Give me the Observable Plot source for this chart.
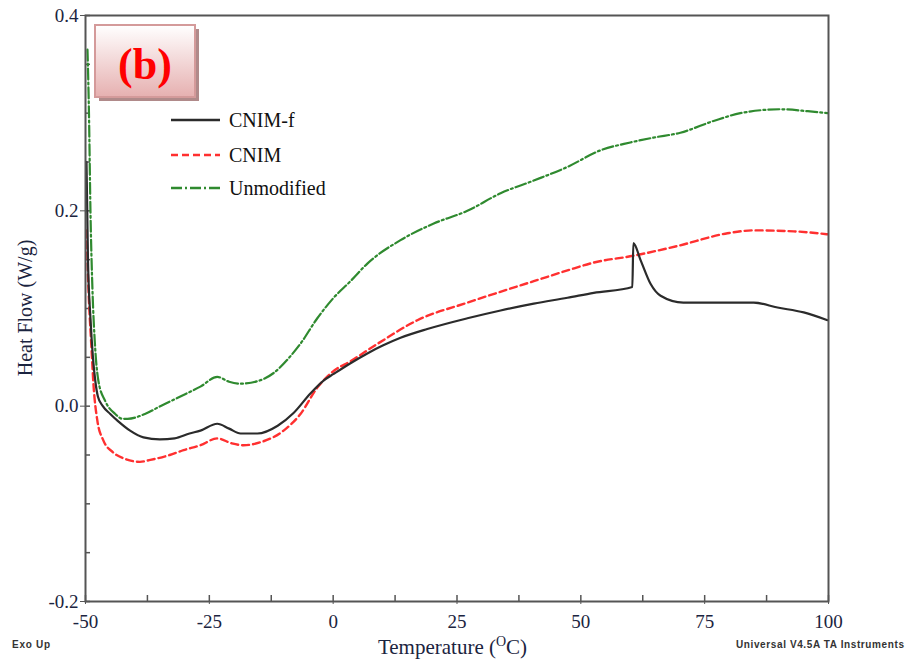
<!DOCTYPE html>
<html>
<head>
<meta charset="utf-8">
<script src="https://cdn.jsdelivr.net/npm/d3@7"></script>
<script src="https://cdn.jsdelivr.net/npm/@observablehq/plot@0.6"></script>
<style>
  html, body { margin: 0; padding: 0; background: #fff; }
  #chart { width: 909px; height: 662px; }
  #chart svg text { font-family: 'Liberation Serif', 'Times New Roman', serif; }
</style>
</head>
<body>
<div id="chart"></div>
<script>
// ---- Data ----
const seriesNames = ["CNIM-f", "CNIM", "Unmodified"];

const cnimfT = [-49.8, -49.5, -49, -48.5, -48, -47.5, -46.5, -45, -43.5, -41, -38.3, -35, -32, -29, -26.8, -23.4, -21, -18.7, -15.3, -11.2, -8, -4.6, -2, 0.1, 3.5, 6.9, 10, 13.6, 19, 27.1, 33.8, 40.5, 47.3, 52.6, 60.4, 60.6, 62.1, 64.1, 66.1, 70.7, 84.9, 89.7, 95, 99.8];
const cnimfV = [0.25, 0.15, 0.09, 0.05, 0.025, 0.01, 0.0, -0.008, -0.015, -0.025, -0.032, -0.034, -0.033, -0.028, -0.025, -0.018, -0.023, -0.028, -0.028, -0.020, -0.007, 0.013, 0.026, 0.033, 0.044, 0.054, 0.062, 0.070, 0.079, 0.090, 0.098, 0.105, 0.111, 0.116, 0.122, 0.167, 0.149, 0.125, 0.113, 0.106, 0.106, 0.101, 0.096, 0.088];

const cnimT = [-49.8, -49.4, -48.8, -48.4, -47.6, -46.4, -44.5, -42, -39, -36.9, -33, -30.2, -26.8, -23.4, -20.5, -18.1, -14.7, -10, -6.6, -3.2, 0.1, 3.5, 9, 17, 27.1, 40.5, 47.3, 52.6, 60.6, 69.5, 79.6, 84.9, 93, 99.8];
const cnimV = [0.18, 0.12, 0.06, 0.023, -0.015, -0.035, -0.047, -0.054, -0.057, -0.055, -0.050, -0.045, -0.040, -0.033, -0.038, -0.040, -0.037, -0.025, -0.008, 0.019, 0.036, 0.046, 0.064, 0.088, 0.106, 0.128, 0.139, 0.147, 0.154, 0.164, 0.177, 0.180, 0.179, 0.176];

const unmodT = [-49.6, -49.3, -49, -48.6, -48.1, -47.4, -46, -44, -42.5, -41.5, -38, -34.9, -30, -26.8, -23.4, -21, -18.7, -15, -12, -9, -6.6, -3.2, 0.1, 3.5, 6.9, 13.6, 20.3, 27.1, 33.8, 40.5, 47.3, 54, 60, 64.7, 70.1, 76.8, 82.2, 90.3, 95.8, 99.8];
const unmodV = [0.365, 0.30, 0.20, 0.12, 0.064, 0.026, 0.005, -0.008, -0.013, -0.013, -0.008, 0.0, 0.012, 0.020, 0.030, 0.025, 0.023, 0.026, 0.034, 0.049, 0.064, 0.090, 0.111, 0.128, 0.146, 0.170, 0.187, 0.200, 0.218, 0.231, 0.245, 0.262, 0.270, 0.275, 0.280, 0.292, 0.300, 0.304, 0.302, 0.300];

const xTickLabels = [-50, -25, 0, 25, 50, 75, 100];
const xMinorTicks = [-50, -37.5, -25, -12.5, 0, 12.5, 25, 37.5, 50, 62.5, 75, 87.5, 100];
const yTickLabels = [-0.2, 0.0, 0.2, 0.4];
const yMinorTicks = [-0.2, -0.15, -0.1, -0.05, 0, 0.05, 0.1, 0.15, 0.2, 0.25, 0.3, 0.35, 0.4];

// ---- Build rows ----
const rows = (T, V, s) => T.map((t, i) => ({t, v: V[i], s}));
const cnimf = rows(cnimfT, cnimfV, seriesNames[0]);
const cnim = rows(cnimT, cnimV, seriesNames[1]);
const unmod = rows(unmodT, unmodV, seriesNames[2]);

const W = 909, H = 662;
const mL = 85, mR = 81, mT = 15, mB = 61;
const pw = W - mL - mR, ph = H - mT - mB;
const axisColor = "#555";
const labelColor = "#1b2440";
const serif = "'Liberation Serif', 'Times New Roman', serif";
const sans = "'Liberation Sans', Arial, sans-serif";

const plot = Plot.plot({
  width: W, height: H,
  marginLeft: mL, marginRight: mR, marginTop: mT, marginBottom: mB,
  x: {domain: [-50, 100]},
  y: {domain: [-0.2, 0.4]},
  style: {fontFamily: serif, fontSize: "19px", background: "white", color: labelColor},
  marks: [
    Plot.gridY(yMinorTicks, {insetRight: pw - 5, stroke: axisColor, strokeOpacity: 1, strokeWidth: 1.5}),
    Plot.gridX(xMinorTicks, {insetTop: ph - 6, stroke: axisColor, strokeOpacity: 1, strokeWidth: 1.5}),
    Plot.axisY(yTickLabels, {tickSize: 5, tickPadding: 2, tickFormat: d => d.toFixed(1), label: null, stroke: axisColor, fill: labelColor, fontSize: 19, fontFamily: serif}),
    Plot.axisX(xTickLabels, {tickSize: 3, tickPadding: 10, tickFormat: d => String(d), label: null, stroke: axisColor, fill: labelColor, fontSize: 19, fontFamily: serif}),
    Plot.line(unmod, {x: "t", y: "v", stroke: "#2f8a2f", strokeWidth: 2.2, strokeDasharray: "11,3,2,3", curve: "monotone-x"}),
    Plot.line(cnim, {x: "t", y: "v", stroke: "#ff3030", strokeWidth: 2.4, strokeDasharray: "7,4", curve: "monotone-x"}),
    Plot.line(cnimf, {x: "t", y: "v", stroke: "#2b2b2b", strokeWidth: 2.2, curve: "monotone-x"}),
    Plot.frame({stroke: axisColor, strokeWidth: 2})
  ]
});

document.getElementById("chart").appendChild(plot);

// ---- Decorations: labels, legend, panel tag ----
const svg = d3.select(plot);

// y-axis title
svg.append("text")
  .attr("transform", `translate(32,${mT + ph / 2}) rotate(-90)`)
  .attr("text-anchor", "middle")
  .attr("font-family", serif).attr("font-size", 20)
  .attr("fill", labelColor)
  .text("Heat Flow (W/g)");

// x-axis title with superscript O
const xt = svg.append("text")
  .attr("x", mL + pw / 2 - 4).attr("y", 654)
  .attr("text-anchor", "middle")
  .attr("font-family", serif).attr("font-size", 21)
  .attr("fill", labelColor);
xt.append("tspan").text("Temperature (");
xt.append("tspan").attr("font-size", 14).attr("dy", -8).text("O");
xt.append("tspan").attr("dy", 8).text("C)");

// footer notes
svg.append("text").attr("x", 12).attr("y", 648).attr("text-anchor", "start")
  .style("font-family", sans).attr("font-weight", "bold").attr("font-size", 10)
  .attr("fill", "#333").attr("textLength", 38).text("Exo Up");
svg.append("text").attr("x", 736).attr("y", 648).attr("text-anchor", "start")
  .style("font-family", sans).attr("font-weight", "bold").attr("font-size", 10)
  .attr("fill", "#333").attr("textLength", 168).text("Universal V4.5A TA Instruments");

// legend
const legend = [
  {name: seriesNames[0], stroke: "#2b2b2b", dash: null, y: 120},
  {name: seriesNames[1], stroke: "#ff3030", dash: "7,4", y: 155},
  {name: seriesNames[2], stroke: "#2f8a2f", dash: "11,3,2,3", y: 188}
];
legend.forEach(d => {
  svg.append("line").attr("x1", 171).attr("x2", 220).attr("y1", d.y).attr("y2", d.y)
    .attr("stroke", d.stroke).attr("stroke-width", 2.4)
    .attr("stroke-dasharray", d.dash);
  svg.append("text").attr("x", 229).attr("y", d.y + 7).attr("text-anchor", "start")
    .attr("font-family", serif).attr("font-size", 20).attr("fill", "#111")
    .text(d.name);
});

// (b) panel tag
const defs = svg.append("defs");
const grad = defs.append("linearGradient").attr("id", "tagGrad").attr("x1", 0).attr("y1", 0).attr("x2", 0).attr("y2", 1);
grad.append("stop").attr("offset", "0%").attr("stop-color", "#ffffff");
grad.append("stop").attr("offset", "100%").attr("stop-color", "#e6b0b0");
svg.append("rect").attr("x", 99).attr("y", 29).attr("width", 100).attr("height", 72).attr("fill", "#b08a8a");
svg.append("rect").attr("x", 95).attr("y", 25).attr("width", 100).attr("height", 72)
  .attr("fill", "url(#tagGrad)").attr("stroke", "#d49a9a").attr("stroke-width", 2);
svg.append("text").attr("x", 145).attr("y", 79).attr("text-anchor", "middle")
  .attr("font-family", serif).attr("font-weight", "bold").attr("font-size", 44)
  .attr("fill", "#ff0000").text("(b)");
</script>
</body>
</html>
